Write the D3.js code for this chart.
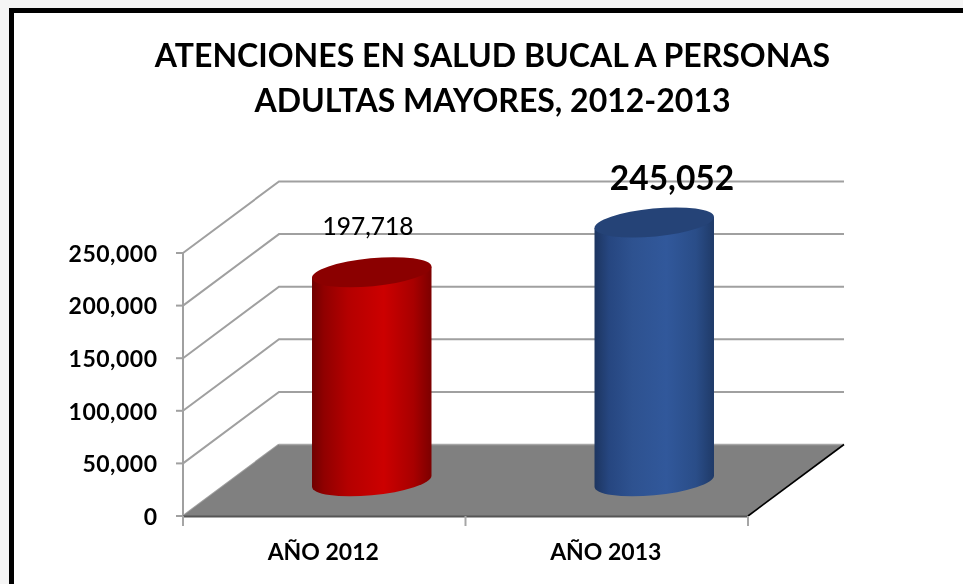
<!DOCTYPE html>
<html><head><meta charset="utf-8">
<script src="https://cdn.jsdelivr.net/npm/d3@7"></script>
<style>html,body{margin:0;padding:0;background:#fff}svg{display:block}text{font-family:Lato,sans-serif;fill:#000}</style>
</head><body><svg id="c" width="963" height="584"></svg>
<script>
const categories = ["AÑO 2012", "AÑO 2013"];
const values = [197718, 245052];
const valueLabels = ["197,718", "245,052"];
const yTicks = [0, 50000, 100000, 150000, 200000, 250000];
const titleLines = ["ATENCIONES EN SALUD BUCAL A PERSONAS", "ADULTAS MAYORES, 2012-2013"];

const W = 963, H = 584;
const dx = 96, dy = 71.5;
const svg = d3.select("#c");
const y = d3.scaleLinear().domain([0, 250000]).range([516, 253]);
const x = d3.scaleBand().domain(categories).range([183, 748]);
const fmt = d3.format(",");
const [x0, x1] = x.range();

// frame
svg.append("rect").attr("width", W).attr("height", H).attr("fill", "#f5f5f5");
svg.append("rect").attr("x", 14).attr("y", 13).attr("width", W - 14).attr("height", H - 13).attr("fill", "#fff");
svg.append("path").attr("d", `M11.5 ${H}V10.5H${W}`).attr("fill", "none").attr("stroke", "#000").attr("stroke-width", 5);

const defs = svg.append("defs");
const grads = [
  {id: "gr0", stops: [[0, "#700000"], [.1, "#900000"], [.3, "#b40000"], [.6, "#cc0000"], [.85, "#a80000"], [1, "#7c0000"]]},
  {id: "gr1", stops: [[0, "#1d3560"], [.12, "#264680"], [.32, "#2e5290"], [.6, "#31589b"], [.85, "#2a4d88"], [1, "#1f3a68"]]}
];
const topCol = ["#8b0000", "#254377"];
grads.forEach(g => {
  const lg = defs.append("linearGradient").attr("id", g.id);
  g.stops.forEach(s => lg.append("stop").attr("offset", s[0]).attr("stop-color", s[1]));
});
defs.append("filter").attr("id", "soft").append("feGaussianBlur").attr("stdDeviation", 0.45);

// walls
const grid = svg.append("g").attr("fill", "none").attr("stroke", "#a0a0a0").attr("stroke-width", 2);
yTicks.forEach(t => {
  const p = d3.path();
  p.moveTo(x0, y(t)); p.lineTo(x0 + dx, y(t) - dy);
  if (t > 0) p.lineTo(x1 + dx, y(t) - dy);
  grid.append("path").attr("d", p.toString());
  grid.append("line").attr("x1", x0 - 7).attr("x2", x0).attr("y1", y(t)).attr("y2", y(t));
});
grid.append("line").attr("x1", x0).attr("x2", x0).attr("y1", y(0)).attr("y2", y(250000));

// floor
svg.append("path")
  .attr("d", `M${x0} ${y(0)}L${x0 + dx} ${y(0) - dy}H${x1 + dx}L${x1} ${y(0)}Z`)
  .attr("fill", "#808080");
svg.append("line").attr("x1", x0 + dx).attr("x2", x1 + dx).attr("y1", y(0) - dy).attr("y2", y(0) - dy).attr("stroke", "#a6a6a6").attr("stroke-width", 1.5);
svg.append("line").attr("x1", x0).attr("x2", x1).attr("y1", y(0) + .5).attr("y2", y(0) + .5).attr("stroke", "#555").attr("stroke-width", 2);
svg.append("line").attr("x1", x1).attr("x2", x1 + dx).attr("y1", y(0)).attr("y2", y(0) - dy).attr("stroke", "#000").attr("stroke-width", 1.6);
[x0, x(categories[1]), x1].forEach(v => svg.append("line").attr("x1", v).attr("x2", v).attr("y1", y(0)).attr("y2", y(0) + 10).attr("stroke", "#a6a6a6").attr("stroke-width", 2));

// cylinders
const rx = 60, ry = 14, rot = -5.5;
const rad = rot * Math.PI / 180;
const ex = Math.sqrt(rx * rx * Math.cos(rad) ** 2 + ry * ry * Math.sin(rad) ** 2);
const ey = -(rx * rx - ry * ry) * Math.sin(rad) * Math.cos(rad) / ex; // y offset of the left extreme
values.forEach((v, i) => {
  const cx = x(categories[i]) + x.bandwidth() / 2 + dx / 2 - 0.5;
  const by = y(0) - dy / 2 + 1, ty = y(v) - dy / 2;
  const g = svg.append("g");
  g.append("path")
    .attr("d", `M${cx - ex} ${ty + ey}L${cx - ex} ${by + ey}A${rx} ${ry} ${rot} 0 0 ${cx + ex} ${by - ey}L${cx + ex} ${ty - ey}Z`)
    .attr("fill", `url(#gr${i})`);
  g.append("ellipse").attr("cx", cx).attr("cy", ty).attr("rx", rx).attr("ry", ry)
    .attr("transform", `rotate(${rot} ${cx} ${ty})`).attr("fill", topCol[i]);
});

// texts
const texts = svg.append("g").attr("filter", "url(#soft)");
titleLines.forEach((t, i) => texts.append("text").attr("x", 492.5).attr("y", 66.5 + i * 45.5)
  .attr("text-anchor", "middle").attr("font-weight", 700).attr("font-size", 32).text(t));
yTicks.forEach(t => texts.append("text").attr("x", 157.5).attr("y", y(t) + 0.5).attr("dy", "0.36em")
  .attr("text-anchor", "end").attr("font-weight", 700).attr("font-size", 23).attr("letter-spacing", 0.5).text(fmt(t)));
categories.forEach(c => texts.append("text").attr("x", x(c) + x.bandwidth() / 2 - 1).attr("y", 559.5)
  .attr("text-anchor", "middle").attr("font-weight", 700).attr("font-size", 23).text(c));
texts.append("text").attr("x", 368).attr("y", 235).attr("text-anchor", "middle").attr("font-size", 24.5).attr("font-weight", 500).text(valueLabels[0]);
texts.append("text").attr("x", 672).attr("y", 190).attr("text-anchor", "middle").attr("font-size", 33.5).attr("font-weight", 700).text(valueLabels[1]);
</script></body></html>
